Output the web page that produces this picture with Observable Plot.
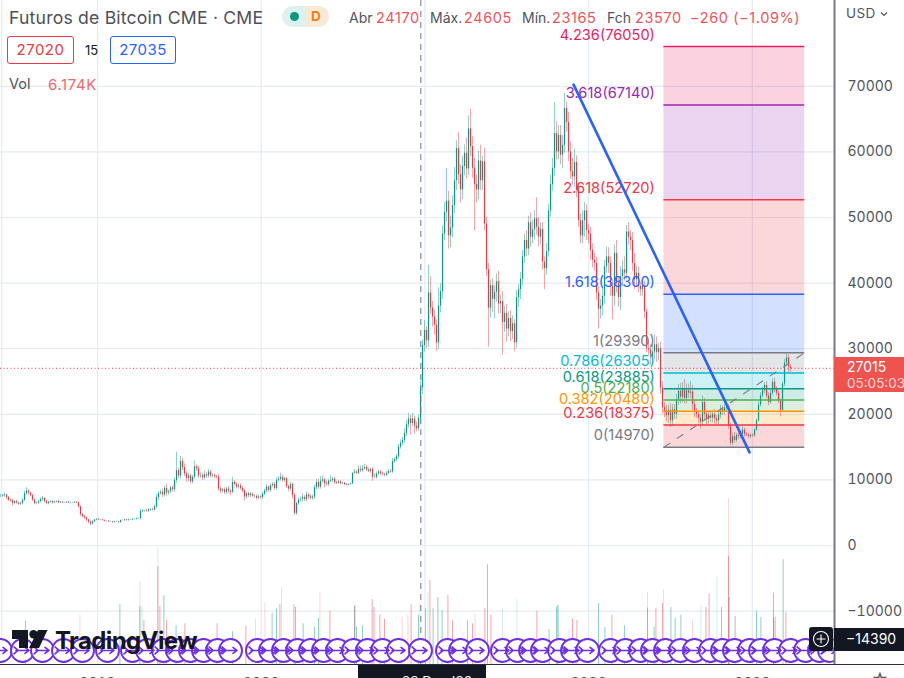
<!DOCTYPE html>
<html>
<head>
<meta charset="utf-8">
<script src="https://cdn.jsdelivr.net/npm/d3@7"></script>
<script src="https://cdn.jsdelivr.net/npm/@observablehq/plot@0.6"></script>
<style>
html,body{margin:0;padding:0;background:#fff;overflow:hidden;width:904px;height:678px;font-family:Inter,"Liberation Sans",sans-serif}
#stage{position:relative;width:904px;height:678px;overflow:hidden}
#stage svg.plot{position:absolute;left:0;top:0;display:block}
.t{position:absolute;white-space:nowrap;line-height:1}
.g{color:#50535e}.r{color:#f0545a}
.box{position:absolute;box-sizing:border-box;border-radius:3px;background:#fff;text-align:center;font-size:15px;line-height:25px;height:28px;width:67px;top:36px;letter-spacing:.5px}
.blk{position:absolute;background:#131722;color:#fff}
</style>
</head>
<body>
<div id="stage"></div>
<script>
// Candle closes in thousand USD, one every 4.46 days starting mid-2018
const closes = [
7.5,7.6,7.7,7.3,6.9,6.8,6.4,6.7,6.5,6.3,
6.4,6.9,7.9,8.3,8.0,7.6,6.9,6.4,6.5,6.7,
7.0,7.2,6.7,6.4,6.6,6.7,6.5,6.6,6.7,6.5,
6.6,6.5,6.5,6.6,6.5,6.5,6.5,6.6,6.5,5.9,
4.7,4.4,4.2,3.9,3.6,3.3,3.6,3.9,4.0,3.9,
3.9,3.8,3.7,3.7,3.6,3.6,3.5,3.6,3.6,3.5,
3.8,3.8,3.9,3.8,3.9,3.9,4.0,4.0,4.1,4.1,
5.2,5.3,5.3,5.2,5.4,5.5,5.4,5.9,7.3,7.9,
8.1,7.7,8.7,8.0,8.2,8.8,8.5,9.9,11.4,10.6,
12.8,11.9,10.9,10.2,10.6,9.7,10.4,12.0,11.7,10.6,
10.7,10.3,10.8,10.6,11.2,10.6,10.7,10.5,10.4,8.6,
8.3,8.5,8.1,8.6,8.3,8.1,9.6,9.3,8.9,9.1,
8.7,8.3,7.4,7.9,7.6,7.8,7.5,7.5,7.2,7.4,
7.3,7.8,8.3,8.9,8.4,9.1,9.3,8.7,9.9,10.1,
10.4,9.9,10.2,9.0,8.6,9.3,7.6,4.9,6.4,6.9,
7.0,7.3,7.0,7.7,7.4,7.2,7.4,8.8,9.6,8.9,
9.8,10.0,9.4,9.3,9.8,9.9,10.1,9.6,9.5,9.7,
9.4,9.5,9.3,9.2,9.3,9.4,11.0,11.2,11.0,11.6,
11.4,11.7,11.9,11.5,11.3,11.6,10.4,10.4,10.9,11.2,
10.9,10.8,10.7,11.0,11.3,11.2,12.8,13.1,13.5,15.0,
15.6,16.0,17.1,18.4,19.3,18.6,19.3,18.2,17.8,19.4,
24.0,30.5,32.8,31.2,38.5,36.2,34.8,33.6,30.9,36.5,
38.7,47.5,50.8,52.5,47.2,48.4,51.8,55.6,60.5,56.5,
54.2,57.8,59.8,57.4,63.5,60.8,57.5,55.0,54.2,58.6,
55.6,58.5,49.0,42.0,36.2,39.6,37.5,38.6,40.2,36.8,
37.2,34.0,35.4,33.0,34.6,32.6,33.8,30.9,37.8,39.0,
40.6,44.0,46.5,45.2,49.2,47.0,48.1,49.8,48.5,47.0,
48.2,43.2,42.2,44.8,51.0,55.0,57.5,62.8,60.0,62.5,
59.5,61.0,66.6,64.5,60.0,57.0,56.2,58.4,54.2,49.5,
47.2,49.5,51.0,48.0,47.5,45.0,43.5,43.0,38.5,36.0,
36.5,38.0,42.5,44.0,43.0,39.5,38.0,44.5,40.0,37.8,
41.0,42.0,41.5,47.8,47.0,46.5,43.0,40.5,41.5,39.5,
39.0,39.5,35.6,30.0,29.8,28.7,29.5,30.6,29.4,30.0,
24.0,21.0,20.5,19.8,20.6,19.0,20.7,20.0,22.2,23.5,
22.6,23.8,22.4,23.6,23.2,23.4,21.5,20.3,20.0,19.4,
18.8,21.8,20.0,19.2,19.8,19.4,20.0,19.3,19.0,19.9,
20.8,20.4,21.0,21.2,18.2,15.6,16.6,16.0,16.8,16.6,
17.0,17.6,16.9,16.8,16.6,16.8,16.7,17.6,19.0,21.4,
22.8,23.6,24.4,22.8,21.8,23.2,24.9,23.8,23.2,22.0,
20.6,24.6,27.8,28.6,27.2,27.0];
// Upper shadow above the candle body, thousand USD
const upperWicks = [
.3,.2,.3,.1,.2,.2,.3,.2,.2,.1,
.2,.3,.4,.5,.2,.1,.2,.2,.1,.2,
.3,.3,.1,.2,.1,.2,.1,.1,.1,.2,
.1,.1,.1,.1,.1,.1,.1,.1,.1,.1,
.1,.2,.2,.1,.1,.1,.2,.1,.1,.1,
.1,.1,.1,.1,.1,.1,.1,.1,.1,.1,
.1,.1,.1,.1,.1,.1,.1,.1,.1,.1,
.3,.2,.1,.2,.2,.1,.2,.3,.5,.3,
.3,.5,.3,.6,.3,.2,.3,.4,2.8,.4,
.8,.5,.5,.3,.4,.3,.3,.9,.3,.4,
.4,.3,.5,.3,.4,.2,.3,.2,.2,.4,
.3,.2,.3,.3,.4,.2,.8,.3,.3,.3,
.3,.3,.3,.2,.2,.3,.2,.3,.2,.3,
.2,.3,.3,.4,.2,.3,.3,.3,.4,.4,
.6,.3,.2,.2,.2,.3,.2,.3,.2,.4,
.4,.6,.3,.5,.3,.3,.3,.4,.5,.5,
.7,.6,.2,.4,.2,.7,.3,.3,.2,.2,
.2,.1,.1,.1,.1,.1,.1,.4,.2,.5,
.5,.5,.5,.3,.3,.2,.3,.5,.3,.3,
.3,.3,.2,.3,.3,.3,.5,.3,.4,.4,
.5,.5,.7,.7,.8,.6,.8,.4,.6,.5,
1,.8,1.5,.6,4.2,2.5,1,1,.8,2.8,
1.2,1.2,1.5,5,1.5,1.8,1.5,2,1.2,2.5,
1.5,1.5,1.3,2.3,2,3,1.5,1.5,1.5,1.5,
2.4,.8,2,1,1,.8,1,1,1.2,1.6,
1,1.5,1,1.3,1,1.2,1.2,.6,1,.8,
1,1,1,1.5,1,1.5,1.4,1.2,3.2,1.5,
1,1,.8,1.2,1,1.5,1.5,4.7,1.8,1.5,
1.5,1.5,2.3,1,1.5,1.5,2,2,1,1,
1,1.5,1.3,1,1,1,1,1,1,1,
1,1.2,1,1.5,1.4,1,1,1.3,2,1,
1.5,1.5,2,1,1.4,1,1.2,1.5,1,1,
.6,.8,.8,.4,1.2,.8,1.2,1.5,1.2,.8,
1,1,.8,.8,.8,1,.8,.8,.8,1,
1.2,1,1.5,1,1,1.6,1,.7,.6,.5,
.5,1,.6,.6,.6,.7,.6,.7,.5,.6,
.6,.5,.6,.7,.3,.4,.4,.6,.3,.4,
.4,.5,.3,.3,.3,.2,.2,.2,.3,.5,
.5,.5,.4,.6,.5,.5,.5,.6,.4,.4,
.3,.3,.6,.8,.5,.4];
// Lower shadow below the candle body, thousand USD
const lowerWicks = [
.2,.2,.2,.3,.2,.2,.4,.2,.2,.2,
.2,.2,.2,.2,.3,.2,.2,.2,.2,.2,
.2,.3,.2,.2,.2,.1,.2,.1,.1,.1,
.1,.1,.1,.1,.1,.1,.1,.1,.1,.2,
.3,.2,.2,.3,.3,.3,.2,.1,.1,.1,
.1,.1,.1,.1,.1,.1,.1,.1,.1,.1,
.1,.1,.1,.1,.1,.1,.1,.1,.1,.1,
.2,.2,.2,.1,.2,.2,.1,.2,.3,.4,
.2,.4,.3,.5,.3,.3,.4,.4,.4,.4,
.5,.5,.4,.5,.5,.3,.3,.3,.4,.4,
.4,.4,.3,.4,.3,.3,.3,.3,.3,.3,
.4,.3,.3,.3,.4,.5,.2,.2,.3,.3,
.3,.3,.6,.3,.3,.3,.2,.3,.3,.2,
.2,.3,.2,.3,.3,.3,.2,.3,.3,.2,
.3,.3,.3,.3,.4,.3,.5,.3,.3,.3,
.3,.4,.3,.3,.4,.3,.3,.4,.3,.3,
.3,.3,.6,.3,.3,.2,.3,.3,.2,.2,
.1,.1,.2,.1,.1,.1,.1,.1,.2,.2,
.3,.2,.2,.2,.2,.3,.6,.2,.3,.2,
.2,.2,.2,.2,.2,.2,.2,.3,.3,.3,
.3,.4,.4,.5,.5,1.8,.5,1.2,.5,.4,
1,1,1,1.2,1,1,1.5,1.5,1.3,1,
1,1.2,1,1.5,2,1.8,1.5,1.2,1.5,1.5,
2,1.5,1.5,1.5,1,1.5,1.5,7,2,1.5,
1.5,1.5,1,1,6,1.5,2,3,1.5,1.5,
1.5,5,1.5,2,1.2,1.5,1.2,1.4,.8,1.5,
1.5,1,1,1.2,1,1.5,1,1.5,1.2,1.5,
1.2,1.2,3.2,1,.8,1,1,1.2,1.2,1.2,
1.5,2,1.2,1.5,1.5,1.2,1.2,1.5,1.2,1,
1.2,1.2,2.5,1.5,1.5,1.5,1.2,1.2,1.2,3,
1.5,1.5,1.2,1,1.5,1.5,3.6,1.5,1.5,1.5,
2,1.5,1.2,1,1.2,1.5,1.2,1.5,1.2,1,
1,1,1,.6,.8,1.2,1.2,1.2,1.5,1.2,
1,1,1,1,1.2,1,.8,.8,.8,.8,
1,.8,.8,.8,.8,.8,1,.8,.6,.8,
1,.6,.9,.8,.7,.7,.7,.8,.6,.6,
.6,.6,.5,.6,.5,.4,.4,.4,.3,.4,
.4,.4,.4,.2,.3,.3,.2,.2,.2,.2,
.3,.3,.4,.4,.5,.3,.3,.5,.4,.4,
1,.3,.4,.5,.8,.6];

// Volume bars: [candle position, volume]
const volumeUp = [[12.5,6.6],[59.7,9.1],[69.7,8.8],[81.7,10.5],[87.8,5.9],[116,5],[135.8,7.8],[138,8.5],[151.3,6.2],[157,5.7],[159,7],[177,8.8],[178,5.7],[181,5.9],[209,7.5],[212.5,8.5],[216.3,8.5],[218.7,10.2],[220.8,8.2],[274.3,5.3],[278,8.7],[278.8,9],[299,9.3],[302.2,5.6],[312,5.9],[326.8,5.7],[335.2,8.7],[337.3,7],[340.2,7.5],[360.5,8.7],[364.3,10.2],[367.3,7.3],[378,8.1],[380.2,7.2],[386.5,7],[391.3,16]];
const volumeDown = [[71.7,6.7],[78.7,14.9],[79.7,8.8],[83,6.7],[92.2,6.2],[108.3,6.2],[122.7,5.8],[139.7,9.2],[146.7,9.1],[147.5,8.7],[164.7,8.1],[177.2,9],[185.8,9.9],[186.7,8.7],[189.7,7.5],[192,6.9],[205.3,9.1],[214.7,12.8],[223.7,10.5],[226,6.7],[233.5,6.7],[236,6.2],[242.2,8.5],[243.5,15.2],[245.2,7.5],[268.2,8.1],[286,6.9],[288.2,6.7],[305.7,7.5],[323.5,8.6],[327.7,8.5],[331,9.3],[352.7,8.7],[354.3,10.7],[364,16.5],[386.5,10.9],[387.3,7.2],[392.7,7.9]];
const volumeFaintUp = [[70.8,8.8],[78.7,17.8],[127.5,6.9],[140.5,11.7],[209.7,9.4],[213.7,11],[251,8.5],[258.2,9.9],[331.5,11.4],[350.2,9],[358.2,13.3]];
const volumeFaintDown = [[39.7,7.5],[69.7,12.5],[132.2,9.3],[159.7,11],[200.8,7.2],[203.7,7.5],[237.3,7.7],[278.5,9],[284.3,5.3],[323.5,11],[346,6.7],[364,25.3]];

const fibLevel = [4.236,3.618,2.618,1.618,1,0.786,0.618,0.5,0.382,0.236,0];
const fibPrice = [76050,67140,52720,38300,29390,26305,23885,22180,20480,18375,14970];
const fibColor = ["#e91e63","#9c27b0","#f23645","#2962ff","#787b86","#00bcd4","#089981","#4caf50","#ff9800","#f23645","#787b86"];
const fibYears = [2022.46,2023.32];
const fibLabelYear = 2022.405;

const trendYears = [2021.908,2022.983];
const trendPrices = [70250,14200];
const diagYears = [2022.46,2023.32];
const diagPrices = [14970,29390];

const priceTicks = [70000,60000,50000,40000,30000,20000,10000,0,-10000];
const gridYears = [2018.414,2019,2020,2021,2022,2023];
const yearTicks = [2019,2020,2022,2023];

const lastPrice = 27015;
const cursorYear = 2020.975;
const iconPositions = [0,11,21,31.5,41,53.5,66,73.5,81.5,88.5,95,101.5,108.5,115,128.5,135,141.5,148.5,155,161.5,168.5,176.5,183.5,191,199,210,223.5,230,238.5,251,258.5,265,271,279.5,286,293.5,305,312.5,320,326,332.5,340,347,355,361,367,374.5,380,387,395,402.5,409.5,414.5];

const candleStart = 2018.4075, candleStep = 2/163.7;
const yearOf = i => candleStart + i * candleStep;

const candles = closes.map((c, i) => {
  const open = i ? closes[i - 1] : c;
  return {
    t: yearOf(i),
    open: open * 1000, close: c * 1000,
    high: (Math.max(open, c) + upperWicks[i]) * 1000,
    low: (Math.min(open, c) - lowerWicks[i]) * 1000,
    up: c >= open
  };
});
const volBase = -18140;
const volRows = a => a.map(([i, v]) => ({t: yearOf(i), y1: volBase, y2: volBase + v * 1000}));
const fibs = fibLevel.map((l, i) => ({
  level: l, price: fibPrice[i], color: fibColor[i],
  next: i ? fibPrice[i - 1] : null, nextColor: i ? fibColor[i - 1] : null,
  label: `${l}(${fibPrice[i]})`
}));
const zones = fibs.filter(d => d.next !== null);
const GREEN = "#089981", RED = "#f23645";

const mergeArrow = {
  draw(ctx, l) {
    ctx.moveTo(0, 0); ctx.lineTo(0, -l);
    ctx.moveTo(-3, -l + 4); ctx.lineTo(0, -l); ctx.lineTo(3, -l + 4);
    ctx.moveTo(-3.5, 2); ctx.lineTo(0, -2);
    ctx.moveTo(3.5, 2); ctx.lineTo(0, -2);
  }
};

const chart = Plot.plot({
  width: 904, height: 678,
  marginLeft: 0, marginTop: 0, marginRight: 70, marginBottom: 14,
  style: {background: "transparent", fontFamily: "Inter, sans-serif", overflow: "visible"},
  x: {domain: [2018.4075, 2023.502]},
  y: {domain: [-18140, 83080]},
  marks: [
    Plot.gridX(gridYears, {stroke: "#e3ebf3", strokeOpacity: 1, strokeWidth: 1.2}),
    Plot.gridY(priceTicks, {stroke: "#e3ebf3", strokeOpacity: 1, strokeWidth: 1.2}),
    // Fibonacci zones
    Plot.rectY(zones, {x1: fibYears[0], x2: fibYears[1], y1: "price", y2: "next", fill: "nextColor", fillOpacity: 0.2}),
    // volume
    Plot.ruleX(volRows(volumeFaintUp), {x: "t", y1: "y1", y2: "y2", stroke: GREEN, strokeOpacity: 0.18, strokeWidth: 1}),
    Plot.ruleX(volRows(volumeFaintDown), {x: "t", y1: "y1", y2: "y2", stroke: RED, strokeOpacity: 0.2, strokeWidth: 1}),
    Plot.ruleX(volRows(volumeUp), {x: "t", y1: "y1", y2: "y2", stroke: GREEN, strokeOpacity: 0.45, strokeWidth: 1}),
    Plot.ruleX(volRows(volumeDown), {x: "t", y1: "y1", y2: "y2", stroke: RED, strokeOpacity: 0.45, strokeWidth: 1}),
    // candle wicks and bodies
    Plot.ruleX(candles, {x: "t", y1: "low", y2: "high", stroke: d => d.up ? GREEN : RED, strokeOpacity: 0.5, strokeWidth: 0.9}),
    Plot.ruleX(candles, {x: "t", y1: "open", y2: "close", stroke: d => d.up ? GREEN : RED, strokeWidth: 1.2}),
    // Fibonacci lines + labels
    Plot.ruleY(fibs, {y: "price", x1: fibYears[0], x2: fibYears[1], stroke: "color", strokeWidth: 1.5}),
    Plot.line(diagYears.map((t, i) => ({t, p: diagPrices[i]})), {x: "t", y: "p", stroke: "#787b86", strokeWidth: 1.1, strokeDasharray: "7 9"}),
    Plot.text(fibs, {x: fibLabelYear, y: "price", text: "label", fill: "color", textAnchor: "end", dy: -11.5, fontSize: 14.6, fontFamily: "Inter, sans-serif"}),
    // trend line
    Plot.line(trendYears.map((t, i) => ({t, p: trendPrices[i]})), {x: "t", y: "p", stroke: "#2962ff", strokeWidth: 2.6}),
    // crosshair
    Plot.ruleX([cursorYear], {stroke: "#6f7688", strokeWidth: 1, strokeDasharray: "6 5"}),
    Plot.ruleY([lastPrice], {stroke: RED, strokeWidth: 1, strokeDasharray: "1 2.5"}),
    // event icons
    Plot.dot(iconPositions, {x: yearOf, y: -16000, r: 11.5, fill: "#fff", stroke: "#6f2de6", strokeWidth: 1.9, clip: true}),
    Plot.vector(iconPositions, {x: yearOf, y: -16000, length: 13, rotate: 90, shape: mergeArrow, stroke: "#6f2de6", strokeWidth: 1.6, fill: "none", clip: true}),
    // axes
    Plot.ruleY([volBase], {stroke: "#2a2e39", strokeWidth: 1, x1: 2018.4075, x2: 2023.93}),
    Plot.ruleX([2023.502], {stroke: "#787b86", strokeWidth: 2}),
    Plot.axisY(priceTicks, {anchor: "right", tickSize: 0, tickPadding: 13, fontSize: 14, label: null, stroke: "none", fill: "#50535e", tickFormat: d => String(d).replace("-", "\u2212")}),
    Plot.axisX(yearTicks, {anchor: "bottom", tickSize: 0, tickPadding: 14, fontSize: 14, label: null, fill: "#50535e", tickFormat: d => String(d)})
  ]
});

const stage = document.getElementById("stage");
stage.appendChild(chart);

const overlay = `
<div class="t g" style="left:9px;top:8.5px;font-size:17.6px;letter-spacing:.2px;color:#4c4f5a">Futuros de Bitcoin CME · CME</div>
<div style="position:absolute;left:282px;top:6px;width:24px;height:21px;background:#dff1ee;border-radius:10.5px 0 0 10.5px"></div>
<div style="position:absolute;left:306px;top:6px;width:23px;height:21px;background:#f9ead7;border-radius:0 10.5px 10.5px 0"></div>
<div style="position:absolute;left:290px;top:12px;width:9px;height:9px;background:#089981;border-radius:50%"></div>
<div class="t" style="left:311px;top:10px;font-size:13.5px;font-weight:700;color:#f7810a">D</div>
<div class="t g" style="left:349px;top:11px;font-size:14px">Abr</div><div class="t r" style="left:376px;top:11px;font-size:14.5px;letter-spacing:.6px">24170</div>
<div class="t g" style="left:430px;top:11px;font-size:14px">Máx.</div><div class="t r" style="left:464px;top:11px;font-size:14.5px;letter-spacing:.6px">24605</div>
<div class="t g" style="left:522px;top:11px;font-size:14px">Mín.</div><div class="t r" style="left:552px;top:11px;font-size:14.5px;letter-spacing:.6px">23165</div>
<div class="t g" style="left:607px;top:11px;font-size:14px">Fch</div><div class="t r" style="left:635px;top:11px;font-size:14.5px;letter-spacing:.6px">23570</div>
<div class="t r" style="left:690px;top:11px;font-size:14.5px;letter-spacing:.6px">−260 (−1.09%)</div>
<div class="t g" style="left:846px;top:7px;font-size:13.5px;letter-spacing:.4px">USD</div>
<svg style="position:absolute;left:880px;top:11px" width="8" height="6"><path d="M1 1.5 L4 4.5 L7 1.5" fill="none" stroke="#50535e" stroke-width="1.2"/></svg>
<div class="box" style="left:7px;border:1.2px solid #f23645;color:#f23645">27020</div>
<div class="t" style="left:85px;top:44px;font-size:13px;color:#131722">15</div>
<div class="box" style="left:110px;width:66px;border:1.2px solid #2962ff;color:#2962ff">27035</div>
<div class="t g" style="left:9px;top:77px;font-size:14.5px">Vol</div>
<div class="t" style="left:48px;top:77px;font-size:15px;letter-spacing:.6px;color:#f2696e">6.174K</div>

<div style="position:absolute;left:834px;top:357px;width:70px;height:35px;background:#ef5350"></div>
<div class="t" style="left:847px;top:360px;font-size:14px;color:#fff">27015</div>
<div class="t" style="left:847px;top:377px;font-size:13.5px;color:#fbd5d6">05:05:03</div>

<svg style="position:absolute;left:12px;top:630px" width="36" height="19" viewBox="0 0 36 19"><path d="M0 0H16V18H7V9H0Z M26 0 h9.5 L27 18 H17 Z" fill="#131722"/><circle cx="21.5" cy="4.2" r="4.2" fill="#131722"/></svg>
<div class="t" style="left:55px;top:629px;font-size:24px;font-weight:700;letter-spacing:-.6px;color:#131722">TradingView</div>

<div class="blk" style="left:809px;top:627px;width:24px;height:24px;border-radius:3px"></div>
<svg style="position:absolute;left:809px;top:627px" width="24" height="24"><circle cx="12" cy="12" r="7.5" fill="none" stroke="#fff" stroke-width="1.1"/><path d="M12 7.5V16.5M7.5 12H16.5" stroke="#fff" stroke-width="1.1"/></svg>
<div class="blk" style="left:834px;top:628px;width:70px;height:23px"></div>
<div class="t" style="left:846px;top:632px;font-size:14px;color:#fff">−14390</div>
<div class="blk" style="left:358px;top:665px;width:128px;height:14px"></div>
<div class="t" style="left:402px;top:675px;font-size:13.5px;color:#fff">23 Dec '20</div>
<div class="t" style="left:871px;top:671px;font-size:17px;color:#50535e">☆</div>
`;
stage.insertAdjacentHTML("beforeend", overlay);
</script>
</body>
</html>
